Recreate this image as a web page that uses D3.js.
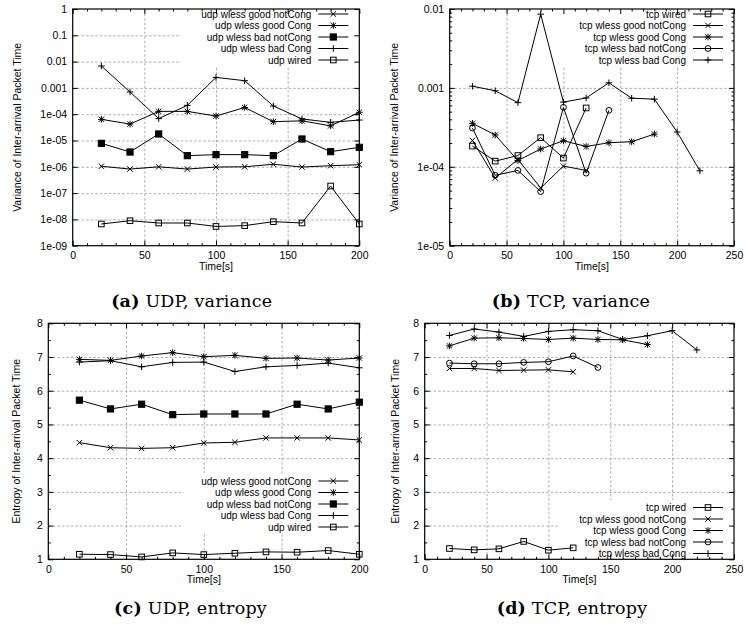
<!DOCTYPE html>
<html>
<head>
<meta charset="utf-8">
<title></title>
<script src="https://cdn.jsdelivr.net/npm/d3@7"></script>
<style>
  body { margin: 0; background: #fff; }
  svg text { font-family: "Liberation Sans", Arial, sans-serif; }
</style>
</head>
<body>
<svg id="fig" width="746" height="630"></svg>
<script>
// ---- data ----
var udpTime = [20, 40, 60, 80, 100, 120, 140, 160, 180, 200];
var tcpTime120 = [20, 40, 60, 80, 100, 120];
var tcpTime140 = [20, 40, 60, 80, 100, 120, 140];
var tcpTime180 = [20, 40, 60, 80, 100, 120, 140, 160, 180];
var tcpTime220 = [20, 40, 60, 80, 100, 120, 140, 160, 180, 200, 220];

// (a) UDP variance
var udpVarGoodNotCong = [1.05e-6, 8.2e-7, 1.0e-6, 8.2e-7, 9.8e-7, 1.0e-6, 1.25e-6, 9.8e-7, 1.1e-6, 1.2e-6];
var udpVarGoodCong = [6.4e-5, 4.2e-5, 1.28e-4, 1.28e-4, 8.5e-5, 1.8e-4, 5.2e-5, 5.6e-5, 3.6e-5, 1.18e-4];
var udpVarBadNotCong = [7.8e-6, 3.65e-6, 1.77e-5, 2.65e-6, 2.9e-6, 2.9e-6, 2.65e-6, 1.14e-5, 3.76e-6, 5.5e-6];
var udpVarBadCong = [6.8e-3, 7.0e-4, 6.8e-5, 2.17e-4, 2.5e-3, 1.88e-3, 2.05e-4, 6.6e-5, 4.9e-5, 6.0e-5];
var udpVarWired = [6.7e-9, 8.9e-9, 7.3e-9, 7.3e-9, 5.4e-9, 5.8e-9, 8.2e-9, 7.3e-9, 1.86e-7, 6.7e-9];

// (b) TCP variance
var tcpVarWired = [1.83e-4, 1.18e-4, 1.39e-4, 2.34e-4, 1.29e-4, 5.57e-4];
var tcpVarGoodNotCong = [2.16e-4, 7.2e-5, 1.24e-4, 5.4e-5, 1.02e-4, 9.0e-5];
var tcpVarGoodCong = [3.56e-4, 2.53e-4, 1.2e-4, 1.68e-4, 2.14e-4, 1.81e-4, 2.02e-4, 2.08e-4, 2.6e-4];
var tcpVarBadNotCong = [3.1e-4, 7.8e-5, 9.0e-5, 4.85e-5, 5.67e-4, 8.3e-5, 5.2e-4];
var tcpVarBadCong = [1.05e-3, 9.2e-4, 6.5e-4, 8.6e-3, 6.6e-4, 7.46e-4, 1.16e-3, 7.4e-4, 7.2e-4, 2.76e-4, 8.9e-5];

// (c) UDP entropy
var udpEntGoodNotCong = [4.46, 4.31, 4.29, 4.31, 4.45, 4.47, 4.60, 4.60, 4.60, 4.54];
var udpEntGoodCong = [6.93, 6.90, 7.03, 7.13, 7.01, 7.05, 6.96, 6.97, 6.91, 6.97];
var udpEntBadNotCong = [5.72, 5.46, 5.60, 5.29, 5.31, 5.31, 5.31, 5.60, 5.46, 5.66];
var udpEntBadCong = [6.85, 6.89, 6.71, 6.84, 6.85, 6.57, 6.71, 6.75, 6.82, 6.68];
var udpEntWired = [1.15, 1.14, 1.07, 1.19, 1.14, 1.18, 1.22, 1.21, 1.26, 1.15];

// (d) TCP entropy
var tcpEntWired = [1.32, 1.28, 1.31, 1.53, 1.27, 1.34];
var tcpEntGoodNotCong = [6.66, 6.66, 6.60, 6.61, 6.62, 6.56];
var tcpEntGoodCong = [7.33, 7.56, 7.57, 7.55, 7.52, 7.56, 7.52, 7.51, 7.37];
var tcpEntBadNotCong = [6.82, 6.80, 6.80, 6.84, 6.86, 7.03, 6.69];
var tcpEntBadCong = [7.64, 7.83, 7.74, 7.61, 7.76, 7.81, 7.78, 7.52, 7.63, 7.78, 7.21];

// ---- ticks ----
var xTicks200 = [0, 50, 100, 150, 200];
var xTicks250 = [0, 50, 100, 150, 200, 250];
var udpVarTicks = [1e-9, 1e-8, 1e-7, 1e-6, 1e-5, 1e-4, 1e-3, 1e-2, 1e-1, 1];
var udpVarLabels = ["1e-09", "1e-08", "1e-07", "1e-06", "1e-05", "1e-04", "0.001", "0.01", "0.1", "1"];
var tcpVarTicks = [1e-5, 1e-4, 1e-3, 1e-2];
var tcpVarLabels = ["1e-05", "1e-04", "0.001", "0.01"];
var entTicks = [1, 2, 3, 4, 5, 6, 7, 8];
var entLabels = ["1", "2", "3", "4", "5", "6", "7", "8"];

var udpNames = ["udp wless good notCong", "udp wless good Cong", "udp wless bad notCong", "udp wless bad Cong", "udp wired"];
var udpMarks = ["cross", "star", "fbox", "plus", "box"];
var tcpNames = ["tcp wired", "tcp wless good notCong", "tcp wless good Cong", "tcp wless bad notCong", "tcp wless bad Cong"];
var tcpMarks = ["box", "cross", "star", "circle", "plus"];
var tcpTimes = [tcpTime120, tcpTime120, tcpTime180, tcpTime140, tcpTime220];

var udpVar = [udpVarGoodNotCong, udpVarGoodCong, udpVarBadNotCong, udpVarBadCong, udpVarWired];
var tcpVar = [tcpVarWired, tcpVarGoodNotCong, tcpVarGoodCong, tcpVarBadNotCong, tcpVarBadCong];
var udpEnt = [udpEntGoodNotCong, udpEntGoodCong, udpEntBadNotCong, udpEntBadCong, udpEntWired];
var tcpEnt = [tcpEntWired, tcpEntGoodNotCong, tcpEntGoodCong, tcpEntBadNotCong, tcpEntBadCong];

var FS = 10.5;   // sans font size
var KFS = 10;    // key font size
var ROW = 11.5;  // key row step

function buildSeries(names, marks, times, vals) {
  return names.map(function(n, i) {
    var t = Array.isArray(times[0]) ? times[i] : times;
    return { name: n, mark: marks[i], pts: t.map(function(x, j) { return [x, vals[i][j]]; }) };
  });
}

function range(a, b, s) { var r = []; for (var v = a; v <= b + 1e-9; v += s) r.push(v); return r; }
function logMinor(e0, e1) {
  var r = [];
  for (var e = e0; e < e1; e++) for (var k = 2; k <= 9; k++) r.push(k * Math.pow(10, e));
  return r;
}

var panels = [
  { left: 72.7, top: 9, right: 359.3, bottom: 245.7, xMax: 200, xTicks: xTicks200, log: true,
    yDomain: [1e-9, 1], yTicks: udpVarTicks, yLabels: udpVarLabels, yMinor: [],
    ylabel: "Variance of Inter-arrival Packet Time", ylabX: 17,
    series: buildSeries(udpNames, udpMarks, udpTime, udpVar), keyTop: 14,
    cap: "(a)", capText: " UDP, variance", capX: 191.7, capY: 306.7 },
  { left: 449.7, top: 9, right: 734, bottom: 245.7, xMax: 250, xTicks: xTicks250, log: true,
    yDomain: [1e-5, 1e-2], yTicks: tcpVarTicks, yLabels: tcpVarLabels, yMinor: logMinor(-5, -2),
    ylabel: "Variance of Inter-arrival Packet Time", ylabX: 394,
    series: buildSeries(tcpNames, tcpMarks, tcpTimes, tcpVar), keyTop: 14,
    cap: "(b)", capText: " TCP, variance", capX: 571, capY: 306.7 },
  { left: 48.3, top: 323.3, right: 359.3, bottom: 559.3, xMax: 200, xTicks: xTicks200, log: false,
    yDomain: [1, 8], yTicks: entTicks, yLabels: entLabels, yMinor: range(1.5, 7.5, 1),
    ylabel: "Entropy of Inter-arrival Packet Time", ylabX: 16,
    series: buildSeries(udpNames, udpMarks, udpTime, udpEnt), keyTop: 481,
    cap: "(c)", capText: " UDP, entropy", capX: 190.5, capY: 614 },
  { left: 424.7, top: 323.3, right: 734, bottom: 559.3, xMax: 250, xTicks: xTicks250, log: false,
    yDomain: [1, 8], yTicks: entTicks, yLabels: entLabels, yMinor: range(1.5, 7.5, 1),
    ylabel: "Entropy of Inter-arrival Packet Time", ylabX: 395,
    series: buildSeries(tcpNames, tcpMarks, tcpTimes, tcpEnt), keyTop: 507.5,
    cap: "(d)", capText: " TCP, entropy", capX: 572, capY: 614 }
];

var svg = d3.select("#fig");

function drawMarker(g, type, cx, cy) {
  var s;
  if (type === "cross" || type === "plus" || type === "star") {
    var d = "";
    if (type !== "plus") { s = 2.7; d += "M" + (cx - s) + "," + (cy - s) + "L" + (cx + s) + "," + (cy + s) + "M" + (cx - s) + "," + (cy + s) + "L" + (cx + s) + "," + (cy - s); }
    if (type !== "cross") { s = 3.3; d += "M" + (cx - s) + "," + cy + "L" + (cx + s) + "," + cy + "M" + cx + "," + (cy - s) + "L" + cx + "," + (cy + s); }
    g.append("path").attr("d", d).attr("stroke", "#000").attr("stroke-width", 1).attr("fill", "none");
  } else if (type === "box" || type === "fbox") {
    s = type === "box" ? 2.8 : 3.1;
    g.append("rect").attr("x", cx - s).attr("y", cy - s).attr("width", 2 * s).attr("height", 2 * s)
      .attr("fill", type === "box" ? "none" : "#000").attr("stroke", "#000").attr("stroke-width", 1);
  } else if (type === "circle") {
    g.append("circle").attr("cx", cx).attr("cy", cy).attr("r", 2.9)
      .attr("fill", "none").attr("stroke", "#000").attr("stroke-width", 1);
  }
}

function styleAxis(a) {
  a.select(".domain").remove();
  a.attr("font-family", "Liberation Sans, Arial, sans-serif").attr("font-size", FS);
  a.selectAll("line").attr("stroke", "#000");
  a.selectAll("text").attr("fill", "#000");
}

panels.forEach(function(p) {
  var w = p.right - p.left, h = p.bottom - p.top;
  var x = d3.scaleLinear().domain([0, p.xMax]).range([p.left, p.right]);
  var y = (p.log ? d3.scaleLog() : d3.scaleLinear()).domain(p.yDomain).range([p.bottom, p.top]);
  var g = svg.append("g");

  // grid
  var gx = g.append("g").attr("transform", "translate(0," + p.bottom + ")")
    .call(d3.axisBottom(x).tickValues(p.xTicks.slice(1, -1)).tickSize(-h).tickFormat(""));
  var gy = g.append("g").attr("transform", "translate(" + p.left + ",0)")
    .call(d3.axisLeft(y).tickValues(p.yTicks.slice(1, -1)).tickSize(-w).tickFormat(""));
  [gx, gy].forEach(function(a) {
    a.select(".domain").remove();
    a.selectAll("line").attr("stroke", "#999").attr("stroke-width", 0.8).attr("stroke-dasharray", "2.5,2");
  });

  var keyBg = g.append("g");
  var lines = g.append("g");

  // data
  var line = d3.line().x(function(d) { return x(d[0]); }).y(function(d) { return y(d[1]); });
  p.series.forEach(function(s) {
    lines.append("path").datum(s.pts).attr("d", line)
      .attr("fill", "none").attr("stroke", "#000").attr("stroke-width", 1);
    s.pts.forEach(function(d) { drawMarker(lines, s.mark, x(d[0]), y(d[1])); });
  });

  // frame and ticks (gnuplot style, inward, mirrored)
  var ax = g.append("g");
  var minorX = range(10, p.xMax - 10, 10).filter(function(v) { return v % 50 !== 0; });
  styleAxis(ax.append("g").attr("transform", "translate(0," + p.bottom + ")")
    .call(d3.axisBottom(x).tickValues(p.xTicks).tickSizeInner(-5).tickSizeOuter(0).tickPadding(6)));
  styleAxis(ax.append("g").attr("transform", "translate(0," + p.bottom + ")")
    .call(d3.axisBottom(x).tickValues(minorX).tickSizeInner(-2.5).tickSizeOuter(0).tickFormat("")));
  styleAxis(ax.append("g").attr("transform", "translate(0," + p.top + ")")
    .call(d3.axisTop(x).tickValues(p.xTicks).tickSizeInner(-5).tickSizeOuter(0).tickFormat("")));
  styleAxis(ax.append("g").attr("transform", "translate(0," + p.top + ")")
    .call(d3.axisTop(x).tickValues(minorX).tickSizeInner(-2.5).tickSizeOuter(0).tickFormat("")));
  styleAxis(ax.append("g").attr("transform", "translate(" + p.left + ",0)")
    .call(d3.axisLeft(y).tickValues(p.yTicks).tickSizeInner(-5).tickSizeOuter(0).tickPadding(5.5)
      .tickFormat(function(d, i) { return p.yLabels[i]; })));
  styleAxis(ax.append("g").attr("transform", "translate(" + p.left + ",0)")
    .call(d3.axisLeft(y).tickValues(p.yMinor).tickSizeInner(-2.5).tickSizeOuter(0).tickFormat("")));
  styleAxis(ax.append("g").attr("transform", "translate(" + p.right + ",0)")
    .call(d3.axisRight(y).tickValues(p.yTicks).tickSizeInner(-5).tickSizeOuter(0).tickFormat("")));
  styleAxis(ax.append("g").attr("transform", "translate(" + p.right + ",0)")
    .call(d3.axisRight(y).tickValues(p.yMinor).tickSizeInner(-2.5).tickSizeOuter(0).tickFormat("")));
  ax.append("rect").attr("x", p.left).attr("y", p.top).attr("width", w).attr("height", h)
    .attr("fill", "none").attr("stroke", "#000").attr("stroke-width", 1.2);

  // axis titles
  g.append("text").attr("x", (p.left + p.right) / 2).attr("y", p.bottom + 24)
    .attr("text-anchor", "middle").attr("font-size", FS).text("Time[s]");
  g.append("text").attr("transform", "translate(" + p.ylabX + "," + ((p.top + p.bottom) / 2) + ") rotate(-90)")
    .attr("text-anchor", "middle").attr("dy", "0.35em").attr("font-size", FS).text(p.ylabel);

  // key
  var key = g.append("g");
  var tx = p.right - 48, maxW = 0;
  p.series.forEach(function(s, i) {
    var ry = p.keyTop + i * ROW;
    var t = key.append("text").attr("x", tx).attr("y", ry).attr("dy", "0.35em")
      .attr("text-anchor", "end").attr("font-size", KFS).text(s.name);
    maxW = Math.max(maxW, t.node().getComputedTextLength());
    key.append("line").attr("x1", p.right - 41).attr("x2", p.right - 11).attr("y1", ry).attr("y2", ry)
      .attr("stroke", "#000").attr("stroke-width", 1);
    drawMarker(key, s.mark, p.right - 26, ry);
  });
  var ky0 = Math.max(p.top, p.keyTop - 7.5), ky1 = Math.min(p.bottom, p.keyTop + 4 * ROW + 6);
  keyBg.append("rect").attr("x", tx - maxW - 20).attr("y", ky0).attr("width", p.right - (tx - maxW - 20))
    .attr("height", ky1 - ky0).attr("fill", "#fff");

  // caption
  var c = svg.append("text").attr("x", p.capX).attr("y", p.capY).attr("text-anchor", "middle")
    .style("font-family", "'DejaVu Serif', 'Liberation Serif', serif").attr("font-size", 17.5)
    .attr("letter-spacing", 0.2);
  c.append("tspan").attr("font-weight", "bold").text(p.cap);
  c.append("tspan").text(p.capText);
});
</script>
</body>
</html>
